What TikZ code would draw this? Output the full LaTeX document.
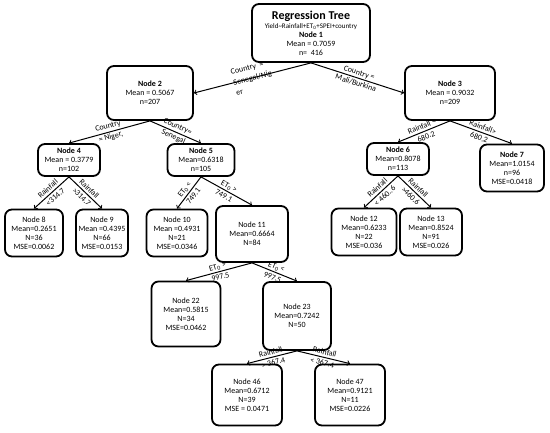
\documentclass[tikz,border=0pt]{standalone}
\usepackage{fontspec}
\setmainfont{Carlito}

\begin{document}
\begin{tikzpicture}[x=1pt, y=-1pt, every node/.style={font=\fontsize{8}{9}\selectfont},
	box/.style={draw, line width=1.8pt, rounded corners=7pt, align=center, inner sep=1pt},
	link/.style={->, line width=1pt},
	cond/.style={sloped, midway, align=center, font=\fontsize{8}{11}\selectfont, inner sep=0.5pt}]
	\useasboundingbox (0,0) rectangle (550,432);
	% root
	\node[box, minimum width=118pt, minimum height=58pt] (n1) at (311,33) {{\fontsize{12}{13}\selectfont\bfseries Regression Tree}\\{\fontsize{7}{8}\selectfont Yield\textasciitilde Rainfall+ET\textsubscript{0}+SPEI+country}\\\textbf{Node 1}\\Mean = 0.7059\\n=~~416};
	% level 2
	\node[box, minimum width=86pt, minimum height=54pt] (n2) at (150,93) {\textbf{Node 2}\\Mean = 0.5067\\n=207};
	\node[box, minimum width=90pt, minimum height=54pt] (n3) at (450,93) {\textbf{Node 3}\\Mean = 0.9032\\n=209};
	% level 3
	\node[box, minimum width=62pt, minimum height=32pt] (n4) at (69,160) {\textbf{Node 4}\\Mean = 0.3779\\n=102};
	\node[box, minimum width=67pt, minimum height=32pt] (n5) at (201,160) {\textbf{Node 5}\\Mean=0.6318\\n=105};
	\node[box, minimum width=62pt, minimum height=32pt] (n6) at (398,159) {\textbf{Node 6}\\Mean=0.8078\\n=113};
	\node[box, minimum width=64pt, minimum height=47pt] (n7) at (512,168) {\textbf{Node 7}\\Mean=1.0154\\n=96\\MSE=0.0418};
	% level 4
	\node[box, minimum width=58pt, minimum height=47pt] (n8) at (34,233) {Node 8\\Mean=0.2651\\N=36\\MSE=0.0062};
	\node[box, minimum width=52pt, minimum height=47pt] (n9) at (102,233) {Node 9\\Mean =0.4395\\N=66\\MSE=0.0153};
	\node[box, minimum width=61pt, minimum height=47pt] (n10) at (177,233) {Node 10\\Mean =0.4931\\N=21\\MSE=0.0346};
	\node[box, minimum width=72pt, minimum height=56pt] (n11) at (252,234) {Node 11\\Mean=0.6664\\N=84};
	\node[box, minimum width=65pt, minimum height=47pt] (n12) at (364,232) {Node 12\\Mean=0.6233\\N=22\\MSE=0.036};
	\node[box, minimum width=62pt, minimum height=47pt] (n13) at (431,232) {Node 13\\Mean=0.8524\\N=91\\MSE=0.026};
	% level 5
	\node[box, minimum width=69pt, minimum height=65pt] (n22) at (186,314) {Node 22\\Mean=0.5815\\N=34\\MSE=0.0462};
	\node[box, minimum width=68pt, minimum height=68pt] (n23) at (297,316) {Node 23\\Mean=0.7242\\N=50};
	% level 6
	\node[box, minimum width=70pt, minimum height=61pt] (n46) at (247,395) {Node 46\\Mean=0.6712\\N=39\\MSE = 0.0471};
	\node[box, minimum width=70pt, minimum height=61pt] (n47) at (350,395) {Node 47\\Mean=0.9121\\N=11\\MSE=0.0226};
	% splits
	\draw[link] (n1.south) -- node[cond, align=left] {Country~~=\\Senegal/Nig\\er} (n2.east);
	\draw[link] (n1.south) -- node[cond] {Country =\\Mali/Burkina} (n3.west);
	\draw[link] (n2.south) -- node[cond] {Country\\= Niger,} (n4.north);
	\draw[link] (n2.south) -- node[cond] {Country=\\Senegal} (n5.north);
	\draw[link] (n3.south) -- node[cond] {Rainfall <\\680.2} (n6.north);
	\draw[link] (n3.south) -- node[cond] {Rainfall>\\680.2} (n7.north);
	\draw[link] (n4.south) -- node[cond] {Rainfall\\<314.7} (n8.north);
	\draw[link] (n4.south) -- node[cond] {Rainfall\\>314.7} (n9.north);
	\draw[link] (n5.south) -- node[cond] {ET\textsubscript{0} <\\749.1} (n10.north);
	\draw[link] (n5.south) -- node[cond] {ET\textsubscript{0} >\\749.1} (n11.north);
	\draw[link] (n6.south) -- node[cond] {Rainfall\\< 460..6} (n12.north);
	\draw[link] (n6.south) -- node[cond] {Rainfall\\>460.6} (n13.north);
	\draw[link] (n11.south) -- node[cond] {ET\textsubscript{0} >\\997.5} (n22.north);
	\draw[link] (n11.south) -- node[cond] {ET\textsubscript{0} <\\997.5} (n23.north);
	\draw[link] (n23.south) -- node[cond] {Rainfall\\> 367.4} (n46.north);
	\draw[link] (n23.south) -- node[cond] {Rainfall\\< 367.4} (n47.north);
\end{tikzpicture}
\end{document}
